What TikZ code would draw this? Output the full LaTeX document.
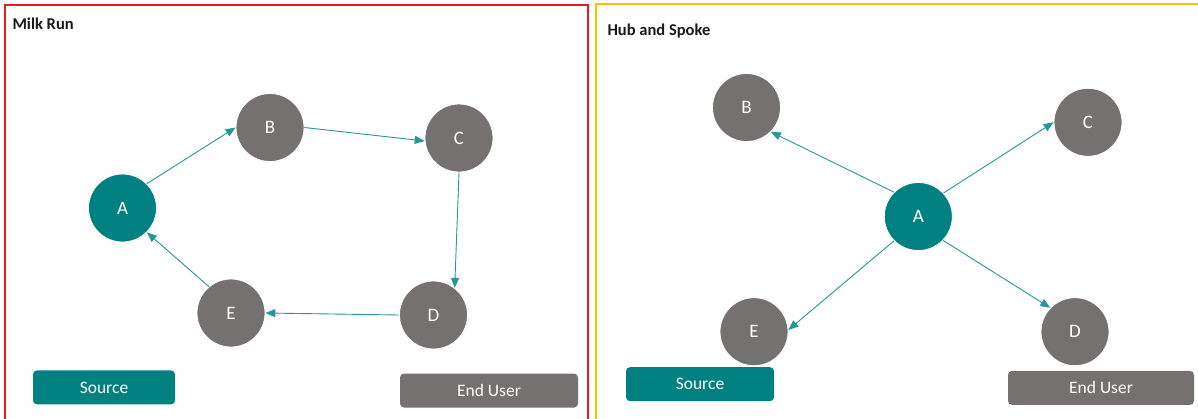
\documentclass[tikz,border=0pt]{standalone}
\usepackage{fontspec}
\setmainfont{Carlito}
\usetikzlibrary{arrows.meta}
\definecolor{teal1}{RGB}{0,128,128}
\definecolor{linkc}{RGB}{38,150,150}
\definecolor{grey1}{RGB}{118,113,113}
\definecolor{frameR}{RGB}{230,30,30}
\definecolor{frameY}{RGB}{255,192,0}
\tikzset{
  hub/.style={circle, fill=teal1, draw=white, line width=0.8pt, minimum size=68pt, inner sep=0pt, text=white, font=\fontsize{19}{19}\selectfont},
  stop/.style={circle, fill=grey1, draw=white, line width=0.8pt, minimum size=68pt, inner sep=0pt, text=white, font=\fontsize{19}{19}\selectfont},
  srcbox/.style={rounded corners=4pt, fill=teal1, text=white, minimum height=34pt, inner sep=0pt, font=\fontsize{17.5}{17.5}\selectfont},
  userbox/.style={rounded corners=4pt, fill=grey1, text=white, minimum height=34pt, inner sep=0pt, font=\fontsize{17.5}{17.5}\selectfont},
  link/.style={draw=linkc, line width=0.9pt, -{Triangle[length=10pt,width=8pt]}},
  ttl/.style={anchor=west, font=\bfseries\fontsize{16.5}{16.5}\selectfont, text=black!90}
}
\begin{document}
\begin{tikzpicture}[x=1pt,y=-1pt]
\useasboundingbox (0,0) rectangle (1198,418);
% panel frames
\draw[frameR, line width=1.5pt] (5,425) -- (5,5) -- (588,5) -- (588,425);
\draw[frameY, line width=1.5pt] (596,425) -- (596,4) -- (1205,4);
\node[ttl] (t1) at (9,24) {Milk Run};
\node[ttl] (t2) at (604,31) {Hub and Spoke};

% milk run: a closed loop of stops
\node[hub]  (mA) at (122.5,208) {A};
\node[stop] (mB) at (270,127.5) {B};
\node[stop] (mC) at (459,138) {C};
\node[stop] (mD) at (433.5,315) {D};
\node[stop] (mE) at (231,313) {E};
\draw[link] (mA.45)  -- (mB.180);
\draw[link] (mB.0)   -- (mC.185);
\draw[link] (mC.270) -- (mD.52);
\draw[link] (mD.180) -- (mE.0);
\draw[link] (mE.130) -- (mA.-45);
\node[srcbox, minimum width=142pt]  (mS) at (104,387.4) {Source};
\node[userbox, minimum width=178pt] (mU) at (489,390.5) {End User};

% hub and spoke: every stop served from the hub
\node[hub]  (hA) at (918.3,216.5) {A};
\node[stop] (hB) at (746.5,107.5) {B};
\node[stop] (hC) at (1088,122.3) {C};
\node[stop] (hD) at (1075,331.7) {D};
\node[stop] (hE) at (754,331.7) {E};
\draw[link] (hA.135) -- (hB.-45);
\draw[link] (hA.43)  -- (hC.180);
\draw[link] (hA.-44) -- (hD.136);
\draw[link] (hA.-135) -- (hE.3);
\node[srcbox, minimum width=148pt]  (hS) at (700,384.2) {Source};
\node[userbox, minimum width=186pt] (hU) at (1101,387.9) {End User};
\end{tikzpicture}
\end{document}
